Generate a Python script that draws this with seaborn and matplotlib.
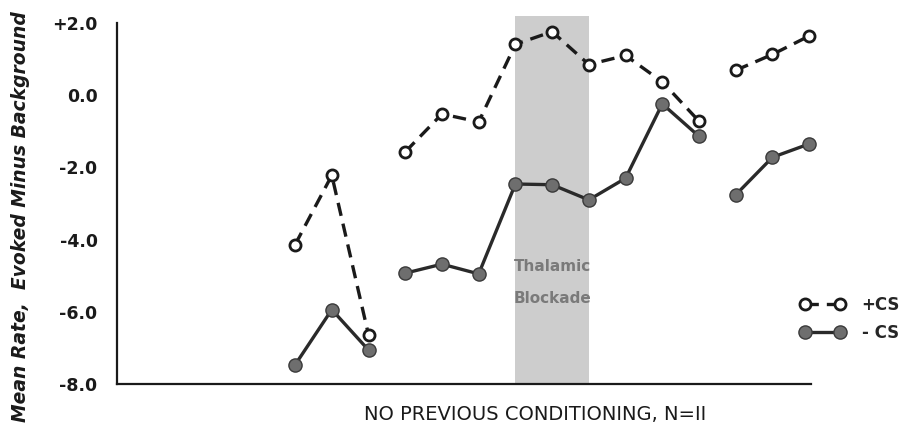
import numpy as np
import pandas as pd
import matplotlib
matplotlib.use("Agg")
import matplotlib.pyplot as plt
from matplotlib.lines import Line2D
import seaborn as sns

# ---- data ----
sessions = list(range(1, 16))
plus_cs = [-4.14, -2.22, -6.64, -1.57, -0.52, -0.74, 1.41, 1.76, 0.85, 1.10, 0.37, -0.72, 0.69, 1.13, 1.64]
minus_cs = [-7.47, -5.94, -7.06, -4.93, -4.68, -4.95, -2.46, -2.48, -2.90, -2.30, -0.24, -1.14, -2.76, -1.72, -1.35]
blocks = [1, 1, 1, 2, 2, 2, 2, 2, 2, 2, 2, 2, 3, 3, 3]
blockade_span = [7, 9]
ytick_values = [-8.0, -6.0, -4.0, -2.0, 0.0, 2.0]
ytick_labels = ["-8.0", "-6.0", "-4.0", "-2.0", "0.0", "+2.0"]
xlabel_text = "NO PREVIOUS CONDITIONING, N=II"
ylabel_text = "Mean Rate,  Evoked Minus Background"
blockade_lines = ["Thalamic", "Blockade"]
legend_labels = ["+CS", "- CS"]

df_plus = pd.DataFrame({"session": sessions, "value": plus_cs, "block": blocks})
df_minus = pd.DataFrame({"session": sessions, "value": minus_cs, "block": blocks})

sns.set_style("white")
plt.rcParams["font.family"] = ["DejaVu Sans"]

fig = plt.figure(figsize=(9.19, 4.34), dpi=100)
ax = fig.add_axes([117 / 919, 50 / 434, 694 / 919, 361 / 434])

ax.axvspan(blockade_span[0], blockade_span[1], ymin=0, ymax=1.02,
           color="#cdcdcd", lw=0, zorder=0, clip_on=False)
for txt, yv in zip(blockade_lines, [-4.75, -5.64]):
    ax.text(np.mean(blockade_span), yv, txt, ha="center", va="center",
            fontsize=11, fontweight="bold", color="#7a7a7a", zorder=1)

sns.lineplot(data=df_minus, x="session", y="value", units="block", estimator=None,
             color="#2a2a2a", lw=2.4, marker="o", markersize=9.5,
             markerfacecolor="#6e6e6e", markeredgecolor="#3a3a3a", markeredgewidth=1.0,
             ax=ax, legend=False, zorder=3)
n1 = len(ax.lines)
sns.lineplot(data=df_plus, x="session", y="value", units="block", estimator=None,
             color="#1a1a1a", lw=2.4, marker="o", markersize=8,
             markerfacecolor="white", markeredgecolor="#1a1a1a", markeredgewidth=2.0,
             ax=ax, legend=False, zorder=4)
for ln in ax.lines[n1:]:
    ln.set_dashes((4.0, 2.4))
for ln in ax.lines:
    ln.set_clip_on(False)

ax.set_xlim(-3.85, 15.05)
ax.set_ylim(-8.0, 2.0)
ax.set_xticks(sessions)
ax.set_xticklabels([])
ax.set_yticks(ytick_values)
ax.set_yticklabels(ytick_labels)
ax.set_xlabel("")
ax.set_ylabel("")
ax.tick_params(axis="y", direction="in", length=7, width=1.5, pad=14,
               labelsize=12.5, colors="#1a1a1a")
ax.tick_params(axis="x", direction="in", length=6, width=1.5)
for lab in ax.get_yticklabels():
    lab.set_fontweight("bold")
sns.despine(ax=ax, top=True, right=True)
for side in ["left", "bottom"]:
    ax.spines[side].set_linewidth(1.6)
    ax.spines[side].set_color("#1a1a1a")

fig.text(535 / 919, 1 - 414 / 434, xlabel_text, ha="center", va="center",
         fontsize=14, color="#1a1a1a")
fig.text(21 / 919, 0.5, ylabel_text, rotation=90, ha="center", va="center",
         fontsize=13.5, fontweight="bold", fontstyle="italic", color="#1a1a1a")

handles = [
    Line2D([0], [0], color="#1a1a1a", lw=2.4, dashes=(4.0, 2.4), marker="o", markersize=8,
           markerfacecolor="white", markeredgecolor="#1a1a1a", markeredgewidth=2.0),
    Line2D([0], [0], color="#2a2a2a", lw=2.4, marker="o", markersize=9.5,
           markerfacecolor="#6e6e6e", markeredgecolor="#3a3a3a", markeredgewidth=1.0),
]
fig.legend(handles, legend_labels, loc="center left", bbox_to_anchor=(800 / 919, 1 - 318.5 / 434),
           frameon=False, numpoints=2, handlelength=2.7, handletextpad=1.0, borderpad=0,
           borderaxespad=0, labelspacing=0.6, prop={"size": 12, "weight": "bold"})

fig.savefig("out.png", dpi=100)
